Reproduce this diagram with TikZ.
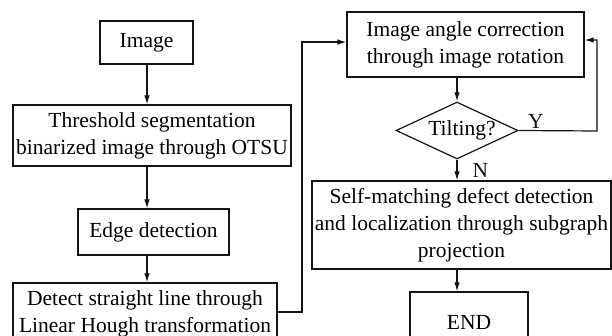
\documentclass[tikz,border=0pt]{standalone}
\usepackage{fontspec}
\setmainfont{Liberation Serif}
\usepackage{xcolor}
\definecolor{LineBlack}{RGB}{20,20,20}
\usepackage{tikz}
\usetikzlibrary{
  shapes, shapes.geometric,
  arrows, arrows.meta,
  positioning, calc
}
\tikzset{
  % Plain process box
  pbox/.style={
    rectangle, draw=LineBlack, line width=1.2pt,
    fill=white, align=center, inner sep=2pt,
    font=\fontsize{21.5}{27}\selectfont
  },
  % Decision diamond
  decision/.style={
    diamond, draw=LineBlack, line width=1.2pt,
    fill=white, align=center, inner sep=0pt, aspect=2.14,
    font=\fontsize{21.5}{27}\selectfont
  },
  % Arrows
  arr/.style={-{Latex[length=9pt,width=5.5pt]}, line width=1.2pt, LineBlack},
  % Edge label
  elabel/.style={font=\fontsize{21.5}{27}\selectfont, inner sep=1pt},
}

\begin{document}
\begin{tikzpicture}[x=1pt, y=-1pt]

  \useasboundingbox (0,0) rectangle (612,336);

  %% ---- LEFT COLUMN ----
  \node[pbox, minimum width=93pt, minimum height=43pt] (img) at (146.5,42.5) {Image};
  \node[pbox, minimum width=278pt, minimum height=61pt] (thr) at (152,135.5)
    {Threshold segmentation\\binarized image through OTSU};
  \node[pbox, minimum width=151pt, minimum height=46pt] (edge) at (153.5,232)
    {Edge detection};
  \node[pbox, minimum width=264pt, minimum height=61pt] (hough) at (145,313.5)
    {Detect straight line through\\Linear Hough transformation};

  %% ---- RIGHT COLUMN ----
  \node[pbox, minimum width=237pt, minimum height=65pt] (rot) at (465.5,44.5)
    {Image angle correction\\through image rotation};
  \node[decision, minimum width=122pt, minimum height=57pt] (tilt) at (457,130.5)
    {\hspace*{10pt}Tilting?};
  \node[pbox, minimum width=299pt, minimum height=88pt] (self) at (461.5,225)
    {Self-matching defect detection\\and localization through subgraph\\projection};
  \node[pbox, minimum width=118pt, minimum height=60pt] (fin) at (469,322)
    {END};

  %% helper points for the loops
  \coordinate (hx) at (302,312);
  \coordinate (yx) at (597,131);

  %% Arrows: left column
  \draw[arr] (147,0 |- img.south) -- (147,0 |- thr.north);
  \draw[arr] (147,0 |- thr.south) -- (147,0 |- edge.north);
  \draw[arr] (147,0 |- edge.south) -- (147,0 |- hough.north);

  %% Hough -> rotation
  \draw[arr] (hough.east |- hx) -- (hx) |- ($(rot.west)+(0,-2.5)$);

  %% Arrows: right column
  \draw[arr] (457,0 |- rot.south) -- (tilt.north);
  \draw[arr] (tilt.south) -- node[elabel, anchor=west, xshift=14pt, pos=0.5]{N} (457,0 |- self.north);
  \draw[arr] (457,0 |- self.south) -- (457,0 |- fin.north);

  %% Tilting loop back
  \draw[arr] (tilt.east) -- node[elabel, above=1pt, pos=0.22]{Y} (yx) |- ($(rot.east)+(0,-4.5)$);

\end{tikzpicture}
\end{document}
